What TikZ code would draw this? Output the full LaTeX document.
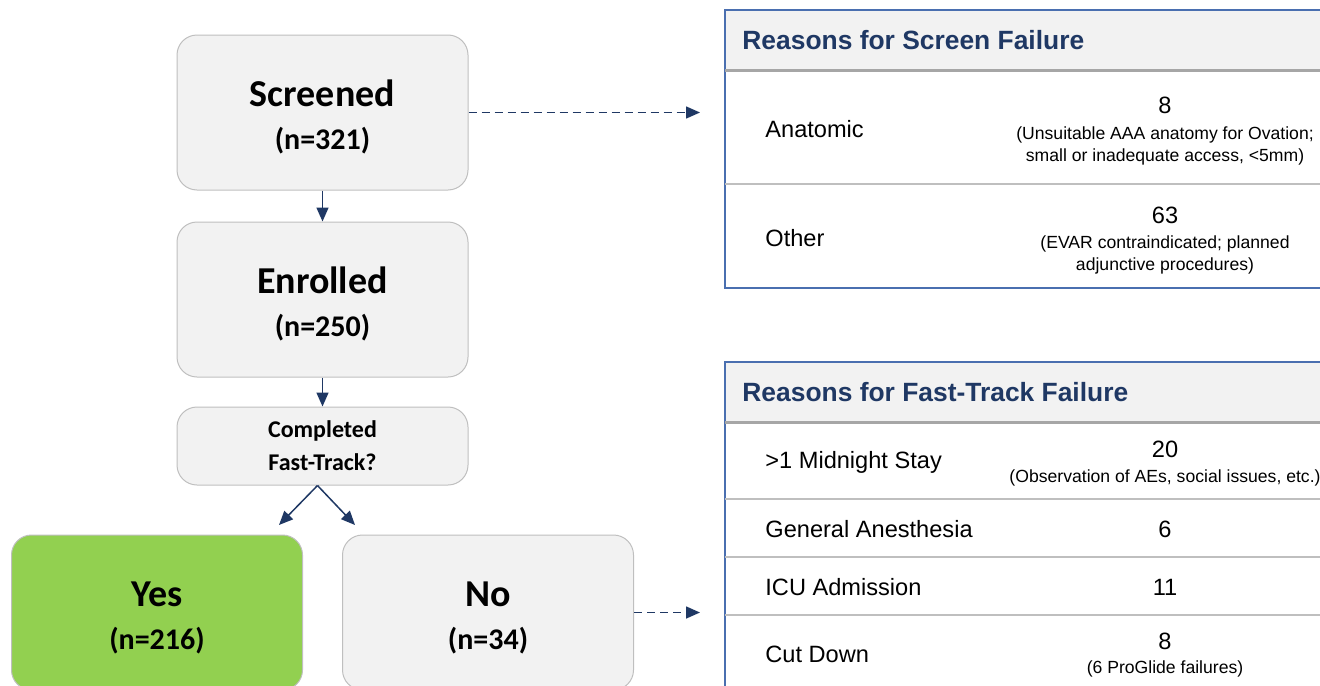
\documentclass[tikz,border=0pt]{standalone}
\usepackage{fontspec}
\setmainfont{Liberation Sans}
\newfontfamily\calibri{Carlito}
\usepackage{xcolor}
\usetikzlibrary{positioning, arrows.meta}
\definecolor{boxgray}{HTML}{F2F2F2}
\definecolor{edgegray}{HTML}{BFBFBF}
\definecolor{rulegray}{HTML}{A6A6A6}
\definecolor{navy}{HTML}{1F3864}
\definecolor{tableblue}{HTML}{4A6FB0}
\definecolor{yesgreen}{HTML}{92D050}
\newcommand{\bigfont}{\fontsize{19}{21.5}\selectfont}
\newcommand{\midfont}{\fontsize{15}{21.5}\selectfont}
\newcommand{\upstrut}{\rule{0pt}{17.5pt}}
\tikzset{
    boxnode/.style = {draw=edgegray, fill=boxgray, rectangle, rounded corners=10pt, line width=0.5pt,
      minimum width=145.5pt, minimum height=77.5pt, inner sep=0pt, node distance=0em,
      font=\calibri\bfseries\midfont},
    asknode/.style = {boxnode, minimum height=39pt, font=\calibri\bfseries\fontsize{12}{16.5}\selectfont},
    titlenode/.style = {draw=none, anchor=west, inner sep=0pt, text=navy, font=\bfseries\fontsize{13.2}{15}\selectfont},
    cellnode/.style = {draw=none, anchor=west, inner sep=0pt, font=\fontsize{11.8}{14}\selectfont},
    numnode/.style = {draw=none, inner sep=0pt, font=\fontsize{11.8}{14}\selectfont},
    notenode/.style = {draw=none, inner sep=0pt, font=\fontsize{8.8}{11}\selectfont},
    connect/.style = {navy, line width=0.75pt, -{Triangle[length=7pt, width=6pt]}},
    dashconnect/.style = {connect, dash pattern=on 4pt off 2.5pt},
    every text node part/.style={align=center}
}
\begin{document}
\begin{tikzpicture}[x=0.5pt, y=-0.5pt]
\clip (0,0) rectangle (1320,685);
% flow chart
\node[boxnode, name=screened] at (322.5,112.5) {\upstrut{\bigfont Screened}\\(n=321)};
\node[boxnode, name=enrolled, below of = screened, yshift=-93.5pt] {\upstrut{\bigfont Enrolled}\\(n=250)};
\node[asknode, name=fasttrack, below of = enrolled, yshift=-73.25pt] {Completed\\Fast-Track?};
\node[boxnode, name=yes, fill=yesgreen] at (157,612.5) {\upstrut{\bigfont Yes}\\(n=216)};
\node[boxnode, name=no, right of = yes, xshift=165.5pt] {\upstrut{\bigfont No}\\(n=34)};
\coordinate (yesin) at (279,525);
\coordinate (noin) at (355,525);
\coordinate (screenout) at (700,112.5);
\coordinate (fastout) at (700,612.5);
\draw[connect] (screened) -- (enrolled);
\draw[connect] (enrolled) -- (fasttrack);
\draw[connect] ([xshift=-2.5pt]fasttrack.south) -- (yesin);
\draw[connect] ([xshift=-2.5pt]fasttrack.south) -- (noin);
\draw[dashconnect] (screened.east) -- (screenout);
\draw[dashconnect] (no.east) -- (fastout);
% screen failure table
\fill[boxgray] (725,10) rectangle (1325,70);
\draw[tableblue, line width=0.75pt] (1325,10) -- (725,10) -- (725,288) -- (1325,288);
\draw[rulegray, line width=1.5pt] (725,70) -- (1325,70);
\draw[edgegray, line width=0.75pt] (725,184) -- (1325,184);
\node[titlenode, name=screenhead] at (742,40) {Reasons for Screen Failure};
\node[cellnode, name=anatomic] at (765,129) {Anatomic};
\node[numnode, name=anatnum] at (1165,105) {8};
\node[notenode, name=anatnote] at (1165,146) {(Unsuitable AAA anatomy for Ovation;\\small or inadequate access, <5mm)};
\node[cellnode, name=other] at (765,238) {Other};
\node[numnode, name=othernum] at (1165,215) {63};
\node[notenode, name=othernote] at (1165,255) {(EVAR contraindicated; planned\\adjunctive procedures)};
% fast-track failure table
\fill[boxgray] (725,362) rectangle (1325,422);
\draw[tableblue, line width=0.75pt] (1325,362) -- (725,362) -- (725,690);
\draw[rulegray, line width=1.5pt] (725,422) -- (1325,422);
\draw[edgegray, line width=0.75pt] (725,499) -- (1325,499);
\draw[edgegray, line width=0.75pt] (725,557) -- (1325,557);
\draw[edgegray, line width=0.75pt] (725,615) -- (1325,615);
\node[titlenode, name=fasthead] at (742,392) {Reasons for Fast-Track Failure};
\node[cellnode, name=midnight] at (765,462) {>1 Midnight Stay};
\node[numnode, name=midnum] at (1165,449) {20};
\node[notenode, name=midnote] at (1165,478) {(Observation of AEs, social issues, etc.)};
\node[cellnode, name=anesthesia] at (765,529) {General Anesthesia};
\node[numnode, name=anesnum] at (1165,529) {6};
\node[cellnode, name=icu] at (765,587) {ICU Admission};
\node[numnode, name=icunum] at (1165,587) {11};
\node[cellnode, name=cutdown] at (765,654) {Cut Down};
\node[numnode, name=cutnum] at (1165,641) {8};
\node[notenode, name=cutnote] at (1165,669) {(6 ProGlide failures)};
\end{tikzpicture}
\end{document}
